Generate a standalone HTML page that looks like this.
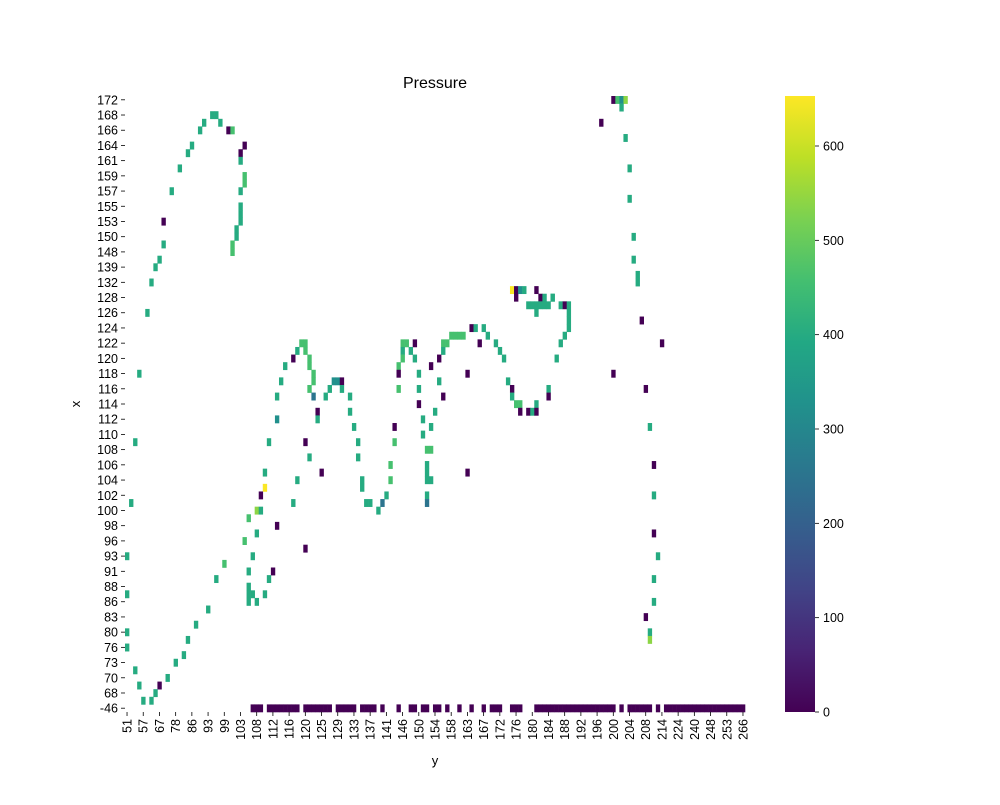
<!DOCTYPE html>
<html><head><meta charset="utf-8"><style>
html,body{margin:0;padding:0;background:#fff;}
svg text{font-family:"Liberation Sans","DejaVu Sans",sans-serif;fill:#000;}
</style></head><body>
<svg id="chart" width="1000" height="800" xmlns="http://www.w3.org/2000/svg">
<defs><linearGradient id="vir" x1="0" y1="1" x2="0" y2="0">
<stop offset="0" stop-color="#440154"/><stop offset="0.1" stop-color="#482475"/><stop offset="0.2" stop-color="#414487"/><stop offset="0.3" stop-color="#355f8d"/><stop offset="0.4" stop-color="#2a788e"/><stop offset="0.5" stop-color="#21918c"/><stop offset="0.6" stop-color="#22a884"/><stop offset="0.7" stop-color="#44bf70"/><stop offset="0.8" stop-color="#7ad151"/><stop offset="0.9" stop-color="#bddf26"/><stop offset="1" stop-color="#fde725"/>
</linearGradient></defs>
<text x="435" y="88" font-size="16" text-anchor="middle">Pressure</text>
<g id="cells"></g>
<g id="xticks"></g>
<g id="yticks"></g>
<text x="435" y="765" font-size="13" text-anchor="middle">y</text>
<text transform="translate(80,404) rotate(-90)" font-size="13" text-anchor="middle">x</text>
<rect x="785" y="96" width="30" height="616" fill="url(#vir)"/>
<g id="cbticks"></g>
</svg>
<script>
const xTickLabels = ["51","57","67","78","86","93","99","103","108","112","116","120","125","129","133","137","141","146","150","154","158","163","167","172","176","180","184","188","192","196","200","204","208","214","224","240","248","253","266"];
const yTickLabels = ["172","168","166","164","161","159","157","155","153","150","148","139","132","128","126","124","122","120","118","116","114","112","110","108","106","104","102","100","98","96","93","91","88","86","83","80","76","73","70","68","-46"];
const colorTicks = [0,100,200,300,400,500,600];
const nCols = 153, nRows = 81, vMin = 0, vMax = 653;
const srcCols = 161; // cell columns below were recorded on a 161-step sampling grid
const G=400,L=460,T=325,B=250,Y=650,YG=540,P=0;
const cells = [
[126,0,P],[127,0,L],[128,0,T],[129,0,YG],[128,1,G],[22,2,G],[23,2,G],[20,3,G],[24,3,G],[123,3,P],
[19,4,G],[26,4,P],[27,4,L],[129,5,G],[17,6,G],[31,6,P],[16,7,G],[29,7,P],[29,8,G],[14,9,G],[130,9,G],
[31,10,L],[31,11,L],[12,12,G],[29,12,G],[130,13,G],[29,14,G],[29,15,G],[29,16,G],[9,16,P],
[28,17,G],[28,18,G],[132,18,G],[9,19,G],[27,19,L],[27,20,L],[8,21,G],[132,21,G],[7,22,G],
[133,23,G],[6,24,G],[133,24,G],
[100,25,Y],[101,25,P],[102,25,T],[103,25,G],[106,25,P],
[101,26,P],[107,26,P],[108,26,G],[110,26,G],[111,26,G],
[104,27,G],[105,27,G],[106,27,G],[107,27,G],[108,27,G],[109,27,G],[113,27,G],[114,27,P],[115,27,G],
[5,28,G],[106,28,G],[115,28,G],[115,29,G],[134,29,P],[115,30,G],[89,30,P],[90,30,G],[93,30,G],
[84,31,L],[85,31,L],[86,31,L],[87,31,L],[94,31,G],[114,31,G],
[45,32,L],[46,32,L],[72,32,L],[73,32,L],[75,32,P],[82,32,L],[83,32,L],[92,32,P],[96,32,G],[113,32,G],[139,32,P],
[44,33,G],[46,33,L],[72,33,G],[74,33,G],[82,33,G],[97,33,G],
[43,34,P],[47,34,L],[72,34,L],[75,34,G],[81,34,P],[98,34,G],[112,34,G],
[41,35,G],[47,35,L],[71,35,L],[79,35,P],
[3,36,G],[48,36,L],[70,36,P],[76,36,G],[88,36,P],[126,36,P],
[48,37,L],[40,37,G],[54,37,T],[55,37,T],[56,37,P],[81,37,G],[99,37,G],
[47,38,L],[53,38,G],[56,38,G],[71,38,L],[76,38,G],[100,38,P],[109,38,G],[135,38,P],
[39,39,G],[48,39,B],[52,39,G],[58,39,G],[82,39,P],[100,39,G],[109,39,P],
[76,40,P],[101,40,L],[102,40,L],[106,40,G],
[49,41,P],[58,41,G],[80,41,G],[102,41,P],[104,41,P],[105,41,G],[106,41,P],
[39,42,T],[49,42,G],[77,42,G],[59,43,G],[69,43,P],[79,43,G],[136,43,G],[77,44,G],
[2,45,G],[37,45,G],[46,45,P],[60,45,G],[69,45,L],[78,46,L],[79,46,L],[47,47,G],[60,47,G],
[68,48,L],[78,48,G],[137,48,P],[36,49,G],[51,49,P],[78,49,G],[88,49,P],
[44,50,G],[61,50,G],[68,50,L],[78,50,G],[79,50,G],[36,51,Y],[61,51,G],
[35,52,P],[67,52,G],[78,52,G],[137,52,G],
[1,53,G],[43,53,G],[62,53,G],[63,53,G],[66,53,B],[78,53,B],
[34,54,YG],[35,54,G],[65,54,G],[32,55,L],[39,56,P],[34,57,G],[137,57,P],[31,58,L],[46,59,P],
[0,60,G],[33,60,G],[138,60,G],[25,61,L],[32,62,G],[38,62,P],[23,63,G],[37,63,G],[137,63,G],
[32,64,G],[0,65,G],[32,65,G],[33,65,G],[36,65,G],[32,66,G],[34,66,G],[137,66,G],
[21,67,G],[135,68,P],[18,69,G],[0,70,G],[136,70,G],[16,71,G],[136,71,YG],[0,72,G],
[15,73,G],[13,74,G],[2,75,G],[11,76,G],[3,77,G],[8,77,P],[7,78,G],[4,79,G],[6,79,G]
];
const baseRowValues = [0];
const baseRuns = [[33,35],[37,44],[46,53],[55,59],[61,64],[66,66],[71,71],[74,75],[77,78],[80,81],[83,83],[86,86],[89,89],[93,93],[95,97],[100,102],[106,126],[128,128],[130,136],[138,138],[140,160]];

const L0=125,R0=745,T0=96,B0=712;
const cw=(R0-L0)/nCols, rh=(B0-T0)/nRows;
function colIdx(c){return Math.round(c*(nCols-1)/(srcCols-1));}
function xPos(c){return L0+c*cw;}
function yPos(r){return T0+r*rh;}
function cbY(v){return B0-(v-vMin)/(vMax-vMin)*(B0-T0);}
const stops=["#440154","#482475","#414487","#355f8d","#2a788e","#21918c","#22a884","#44bf70","#7ad151","#bddf26","#fde725"];
function hex(h){return [1,3,5].map(i=>parseInt(h.substr(i,2),16));}
function color(v){let t=Math.max(0,Math.min(1,(v-vMin)/(vMax-vMin)))*10;let i=Math.min(9,Math.floor(t)),f=t-i;
 const a=hex(stops[i]),b=hex(stops[i+1]);return "rgb("+a.map((x,k)=>Math.round(x+(b[k]-x)*f)).join(",")+")";}
const NS="http://www.w3.org/2000/svg";
function mk(tag,attrs,parent){const e=document.createElementNS(NS,tag);for(const k in attrs)e.setAttribute(k,attrs[k]);parent.appendChild(e);return e;}
const gC=document.getElementById("cells");
cells.forEach(d=>{
 const r=mk("rect",{x:xPos(colIdx(d[0])),y:yPos(d[1]),width:cw+0.3,height:rh+0.3,fill:color(d[2])},gC);
 
 
});
baseRuns.forEach(run=>{
 const a=colIdx(run[0]), b=colIdx(run[1]);
 for(let c=a;c<=b;c++){
  const r=mk("rect",{x:xPos(c),y:yPos(nRows-1),width:cw+0.3,height:rh+0.3,fill:color(baseRowValues[0])},gC);
  
  
 }
});
const gX=document.getElementById("xticks");
xTickLabels.forEach((lab,i)=>{
 const x=xPos(i*4)+cw/2;
 const t=mk("line",{x1:x,x2:x,y1:B0,y2:B0+4,stroke:"#000","stroke-width":0.8},gX);
 
 
 const tx=mk("text",{transform:"translate("+(x+4.5)+","+(B0+7)+") rotate(-90)","font-size":12.5,"text-anchor":"end"},gX);
 tx.textContent=lab;
 
 
});
const gY=document.getElementById("yticks");
yTickLabels.forEach((lab,i)=>{
 const y=yPos(i*2)+rh/2;
 const t=mk("line",{x1:L0-4,x2:L0,y1:y,y2:y,stroke:"#000","stroke-width":0.8},gY);
 
 
 const tx=mk("text",{x:L0-7,y:y+4.5,"font-size":12.5,"text-anchor":"end"},gY);
 tx.textContent=lab;
 
 
});
const gB=document.getElementById("cbticks");
colorTicks.forEach(v=>{
 const y=cbY(v);
 const t=mk("line",{x1:815,x2:819,y1:y,y2:y,stroke:"#000","stroke-width":0.8},gB);
 
 
 const tx=mk("text",{x:823,y:y+4.5,"font-size":12.5},gB);
 tx.textContent=v;
 
 
});
</script>
</body></html>
